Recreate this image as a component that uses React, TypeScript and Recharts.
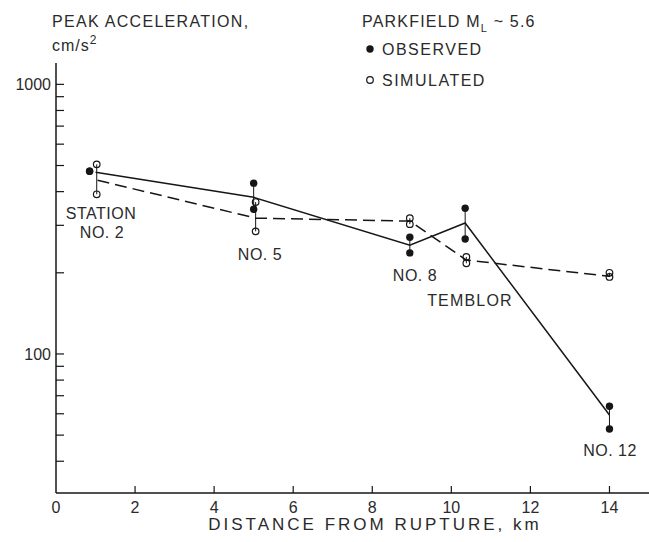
import React from 'react';
import { ComposedChart, XAxis, YAxis, Line, Scatter, ReferenceLine } from 'recharts';

// stations along the profile (km from rupture)
const stationNames = ['STATION NO. 2', 'NO. 5', 'NO. 8', 'TEMBLOR', 'NO. 12'];

// observed peak acceleration, two components per station (cm/s^2)
const obsKm = [0.85, 5.0, 8.95, 10.35, 14.0];
const obsHigh = [476, 430, 271, 347, 64];
const obsLow = [476, 344, 237, 267, 52.7];

// simulated peak acceleration, two components per station
const simKm = [1.03, 5.05, 8.95, 10.38, 14.0];
const simHigh = [505, 366, 319, 229, 200];
const simLow = [391, 285, 303, 217, 193];

// averages joined by lines
const obsMeanKm = [1.0, 5.0, 8.95, 10.35, 14.0];
const obsMean = [472, 381, 253, 306, 59.4];
const simMeanKm = [1.05, 5.05, 8.95, 10.38, 14.0];
const simMean = [441, 319, 311, 223, 194];

const xTicks = [0, 2, 4, 6, 8, 10, 12, 14];
const yTicks = [40, 50, 60, 70, 80, 90, 100, 200, 300, 400, 500, 600, 700, 800, 900, 1000];
const yLabels = [100, 1000];

const FONT = '"Liberation Sans", Arial, sans-serif';
const INK = '#161616';
const TEXT = '#2a2a2a';

const observedPoints = obsKm.flatMap((x, i) => [
  { x, y: obsHigh[i] },
  { x, y: obsLow[i] },
]);
const simulatedPoints = simKm.flatMap((x, i) => [
  { x, y: simHigh[i] },
  { x, y: simLow[i] },
]);
const obsMeanLine = obsMeanKm.map((x, i) => ({ x, y: obsMean[i] }));
const simMeanLine = simMeanKm.map((x, i) => ({ x, y: simMean[i] }));

const XTick = ({ x, y, payload }: any) => (
  <g>
    {payload.value !== 0 && <line x1={x} x2={x} y1={y} y2={y - 7} stroke={INK} strokeWidth={1.2} />}
    <text x={x} y={y + 20} textAnchor="middle" fontSize={16} fontFamily={FONT} fill={TEXT}>
      {payload.value}
    </text>
  </g>
);

const YTick = ({ x, y, payload }: any) => (
  <g>
    <line x1={x} x2={x + 8} y1={y} y2={y} stroke={INK} strokeWidth={1.2} />
    {yLabels.includes(payload.value) && (
      <text x={x - 5} y={y + 6} textAnchor="end" fontSize={16} fontFamily={FONT} fill={TEXT}>
        {payload.value}
      </text>
    )}
  </g>
);

const FilledDot = (p: any) => <circle cx={p.cx} cy={p.cy} r={3.7} fill={INK} />;
const OpenDot = (p: any) => (
  <circle cx={p.cx} cy={p.cy} r={3.3} fill="none" stroke={INK} strokeWidth={1.2} />
);

const txt = { fontFamily: FONT, fill: TEXT } as const;

export default function App() {
  return (
    <div style={{ position: 'absolute', left: 0, top: 0, width: 649, height: 542, background: '#fff' }}>
      <ComposedChart width={649} height={542} margin={{ top: 63, right: 0, bottom: 0, left: 0 }}>
        <XAxis
          type="number"
          dataKey="x"
          domain={[0, 15]}
          ticks={xTicks}
          interval={0}
          height={49}
          tickSize={0}
          tickMargin={0}
          tickLine={false}
          tick={<XTick />}
          axisLine={{ stroke: INK, strokeWidth: 1.5 }}
          allowDataOverflow
        />
        <YAxis
          type="number"
          dataKey="y"
          scale="log"
          domain={[30.5, 1200]}
          ticks={yTicks}
          interval={0}
          width={56}
          tickSize={0}
          tickMargin={0}
          tickLine={false}
          tick={<YTick />}
          axisLine={{ stroke: INK, strokeWidth: 1.5 }}
          allowDataOverflow
        />
        {obsKm.map((x, i) => (
          <ReferenceLine
            key={'oc' + i}
            segment={[{ x, y: obsHigh[i] }, { x, y: obsLow[i] }]}
            stroke={INK}
            strokeWidth={1}
          />
        ))}
        {simKm.map((x, i) => (
          <ReferenceLine
            key={'sc' + i}
            segment={[{ x, y: simHigh[i] }, { x, y: simLow[i] }]}
            stroke={INK}
            strokeWidth={1}
          />
        ))}
        <Line
          data={obsMeanLine}
          dataKey="y"
          type="linear"
          stroke={INK}
          strokeWidth={1.5}
          dot={false}
          activeDot={false}
          isAnimationActive={false}
        />
        <Line
          data={simMeanLine}
          dataKey="y"
          type="linear"
          stroke={INK}
          strokeWidth={1.5}
          strokeDasharray="12 6"
          dot={false}
          activeDot={false}
          isAnimationActive={false}
        />
        <Scatter data={simulatedPoints} shape={<OpenDot />} isAnimationActive={false} />
        <Scatter data={observedPoints} shape={<FilledDot />} isAnimationActive={false} />
      </ComposedChart>

      <svg width={649} height={542} style={{ position: 'absolute', left: 0, top: 0, pointerEvents: 'none' }}>
        {/* axis titles */}
        <text x={52} y={27} fontSize={16} letterSpacing={1.3} {...txt}>PEAK ACCELERATION,</text>
        <text x={52} y={51} fontSize={16} letterSpacing={1} {...txt}>
          cm/s<tspan dy={-7} fontSize={12}>2</tspan>
        </text>
        <text x={375} y={530} fontSize={17} letterSpacing={3} textAnchor="middle" {...txt}>
          DISTANCE FROM RUPTURE, km
        </text>

        {/* legend */}
        <text x={362} y={27} fontSize={16} letterSpacing={1.2} {...txt}>
          PARKFIELD  M<tspan dy={5} fontSize={11}>L</tspan><tspan dy={-5}> ~ 5.6</tspan>
        </text>
        <circle cx={370} cy={49} r={3.7} fill={INK} />
        <text x={382} y={55} fontSize={16} letterSpacing={1.5} {...txt}>OBSERVED</text>
        <circle cx={370} cy={80} r={3.3} fill="none" stroke={INK} strokeWidth={1.2} />
        <text x={382} y={86} fontSize={16} letterSpacing={1.5} {...txt}>SIMULATED</text>

        {/* station labels */}
        <text x={101} y={219} fontSize={16} letterSpacing={0.5} textAnchor="middle" {...txt}>STATION</text>
        <text x={102} y={238} fontSize={16} letterSpacing={0.5} textAnchor="middle" {...txt}>{stationNames[0].replace('STATION ', '')}</text>
        <text x={260} y={260} fontSize={16} letterSpacing={0.5} textAnchor="middle" {...txt}>{stationNames[1]}</text>
        <text x={415} y={281} fontSize={16} letterSpacing={0.5} textAnchor="middle" {...txt}>{stationNames[2]}</text>
        <text x={470} y={306} fontSize={16} letterSpacing={1.2} textAnchor="middle" {...txt}>{stationNames[3]}</text>
        <text x={610} y={456} fontSize={16} letterSpacing={0.5} textAnchor="middle" {...txt}>{stationNames[4]}</text>
      </svg>
    </div>
  );
}
